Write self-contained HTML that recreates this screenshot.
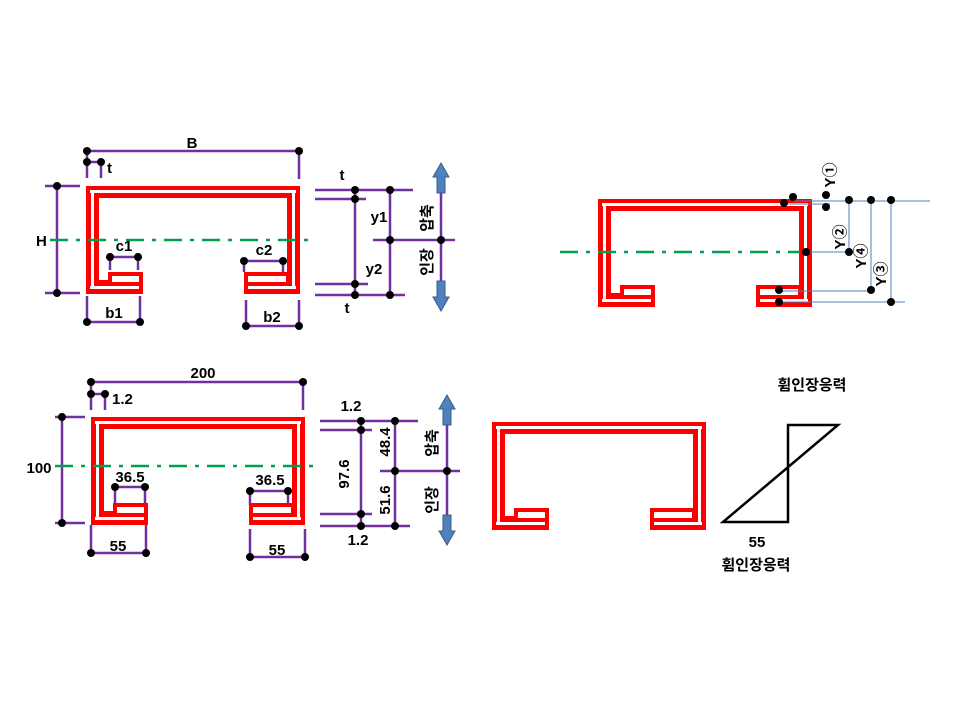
<!DOCTYPE html>
<html><head><meta charset="utf-8"><style>
html,body{margin:0;padding:0;background:#fff}
svg text{font-family:"Liberation Sans","Noto Sans CJK KR",sans-serif;font-weight:bold;font-size:15px;fill:#000}
</style></head><body>
<svg width="960" height="720" viewBox="0 0 960 720" xmlns="http://www.w3.org/2000/svg">
<defs>
<g id="sec">
<rect x="0" y="0" width="214" height="12" fill="#f00"/>
<rect x="0" y="0" width="13" height="108" fill="#f00"/>
<rect x="201" y="0" width="13" height="108" fill="#f00"/>
<rect x="0" y="94" width="57" height="14" fill="#f00"/>
<rect x="22" y="86" width="35" height="22" fill="#f00"/>
<rect x="158" y="94" width="56" height="14" fill="#f00"/>
<rect x="158" y="86" width="48" height="22" fill="#f00"/>
<rect x="4" y="4" width="206" height="3" fill="#fff"/>
<rect x="5" y="7" width="3" height="93" fill="#fff"/>
<rect x="4" y="100" width="49" height="3" fill="#fff"/>
<rect x="26" y="90" width="27" height="6" fill="#fff"/>
<rect x="206" y="7" width="3" height="93" fill="#fff"/>
<rect x="162" y="100" width="48" height="3" fill="#fff"/>
<rect x="162" y="90" width="38" height="6" fill="#fff"/>
</g>
<g id="up"><path d="M-4,30 V14 H-8 L0,0 L8,14 H4 V30 Z" fill="#4f81bd" stroke="#385d8a" stroke-width="1"/></g>
</defs>

<!-- TOP LEFT -->
<g stroke="#7030a0" stroke-width="2.5" fill="none">
<line x1="87" y1="151" x2="299" y2="151"/><line x1="299" y1="151" x2="299" y2="179"/>
<line x1="87" y1="151" x2="87" y2="178"/><line x1="87" y1="162" x2="101" y2="162"/><line x1="101" y1="162" x2="101" y2="178"/>
<line x1="57" y1="186" x2="57" y2="293"/><line x1="45" y1="186" x2="80" y2="186"/><line x1="45" y1="293" x2="80" y2="293"/>
<line x1="110" y1="257" x2="138" y2="257"/><line x1="110" y1="257" x2="110" y2="270"/><line x1="138" y1="257" x2="138" y2="270"/>
<line x1="244" y1="261" x2="283" y2="261"/><line x1="244" y1="261" x2="244" y2="272"/><line x1="283" y1="261" x2="283" y2="272"/>
<line x1="87" y1="296" x2="87" y2="322"/><line x1="140" y1="296" x2="140" y2="322"/><line x1="87" y1="322" x2="140" y2="322"/>
<line x1="246" y1="300" x2="246" y2="326"/><line x1="299" y1="300" x2="299" y2="326"/><line x1="246" y1="326" x2="299" y2="326"/>
<line x1="315" y1="190" x2="413" y2="190"/><line x1="315" y1="199" x2="366" y2="199"/>
<line x1="315" y1="284" x2="368" y2="284"/><line x1="315" y1="295" x2="405" y2="295"/>
<line x1="355" y1="190" x2="355" y2="295"/><line x1="390" y1="190" x2="390" y2="295"/>
<line x1="373" y1="240" x2="455" y2="240"/><line x1="441" y1="185" x2="441" y2="290"/>
</g>
<use href="#sec" x="86" y="186"/>
<line x1="50" y1="240" x2="312" y2="240" stroke="#00a050" stroke-width="2.5" stroke-dasharray="18,8,4,8"/>
<use href="#up" x="441" y="163"/>
<use href="#up" transform="translate(441,311) scale(1,-1)"/>
<g fill="#000">
<circle cx="87" cy="151" r="4"/><circle cx="299" cy="151" r="4"/><circle cx="87" cy="162" r="4"/><circle cx="101" cy="162" r="4"/>
<circle cx="57" cy="186" r="4"/><circle cx="57" cy="293" r="4"/>
<circle cx="110" cy="257" r="4"/><circle cx="138" cy="257" r="4"/><circle cx="244" cy="261" r="4"/><circle cx="283" cy="261" r="4"/>
<circle cx="87" cy="322" r="4"/><circle cx="140" cy="322" r="4"/><circle cx="246" cy="326" r="4"/><circle cx="299" cy="326" r="4"/>
<circle cx="355" cy="190" r="4"/><circle cx="355" cy="199" r="4"/><circle cx="355" cy="284" r="4"/><circle cx="355" cy="295" r="4"/>
<circle cx="390" cy="190" r="4"/><circle cx="390" cy="240" r="4"/><circle cx="390" cy="295" r="4"/><circle cx="441" cy="240" r="4"/>
</g>
<text x="192" y="148" text-anchor="middle">B</text>
<text x="107" y="173">t</text>
<text x="36" y="246">H</text>
<text x="124" y="251" text-anchor="middle">c1</text>
<text x="264" y="255" text-anchor="middle">c2</text>
<text x="114" y="318" text-anchor="middle">b1</text>
<text x="272" y="322" text-anchor="middle">b2</text>
<text x="342" y="180" text-anchor="middle">t</text>
<text x="379" y="222" text-anchor="middle">y1</text>
<text x="374" y="274" text-anchor="middle">y2</text>
<text x="347" y="313" text-anchor="middle">t</text>
<text transform="translate(432,218) rotate(-90)" text-anchor="middle">압축</text>
<text transform="translate(432,262) rotate(-90)" text-anchor="middle">인장</text>

<!-- BOTTOM LEFT -->
<g stroke="#7030a0" stroke-width="2.5" fill="none">
<line x1="91" y1="382" x2="303" y2="382"/><line x1="303" y1="382" x2="303" y2="410"/>
<line x1="91" y1="382" x2="91" y2="410"/><line x1="91" y1="394" x2="105" y2="394"/><line x1="105" y1="394" x2="105" y2="410"/>
<line x1="62" y1="417" x2="62" y2="523"/><line x1="55" y1="417" x2="85" y2="417"/><line x1="55" y1="523" x2="85" y2="523"/>
<line x1="115" y1="487" x2="145" y2="487"/><line x1="115" y1="487" x2="115" y2="505"/><line x1="145" y1="487" x2="145" y2="505"/>
<line x1="250" y1="491" x2="288" y2="491"/><line x1="250" y1="491" x2="250" y2="505"/><line x1="288" y1="491" x2="288" y2="505"/>
<line x1="91" y1="525" x2="91" y2="555"/><line x1="146" y1="525" x2="146" y2="555"/><line x1="91" y1="553" x2="146" y2="553"/>
<line x1="250" y1="529" x2="250" y2="560"/><line x1="305" y1="529" x2="305" y2="560"/><line x1="250" y1="557" x2="305" y2="557"/>
<line x1="320" y1="421" x2="418" y2="421"/><line x1="320" y1="430" x2="372" y2="430"/>
<line x1="320" y1="514" x2="372" y2="514"/><line x1="320" y1="526" x2="410" y2="526"/>
<line x1="361" y1="421" x2="361" y2="526"/><line x1="395" y1="421" x2="395" y2="526"/>
<line x1="380" y1="471" x2="460" y2="471"/><line x1="447" y1="415" x2="447" y2="525"/>
</g>
<use href="#sec" x="91" y="417"/>
<line x1="55" y1="466" x2="315" y2="466" stroke="#00a050" stroke-width="2.5" stroke-dasharray="18,8,4,8"/>
<use href="#up" x="447" y="395"/>
<use href="#up" transform="translate(447,545) scale(1,-1)"/>
<g fill="#000">
<circle cx="91" cy="382" r="4"/><circle cx="303" cy="382" r="4"/><circle cx="91" cy="394" r="4"/><circle cx="105" cy="394" r="4"/>
<circle cx="62" cy="417" r="4"/><circle cx="62" cy="523" r="4"/>
<circle cx="115" cy="487" r="4"/><circle cx="145" cy="487" r="4"/><circle cx="250" cy="491" r="4"/><circle cx="288" cy="491" r="4"/>
<circle cx="91" cy="553" r="4"/><circle cx="146" cy="553" r="4"/><circle cx="250" cy="557" r="4"/><circle cx="305" cy="557" r="4"/>
<circle cx="361" cy="421" r="4"/><circle cx="361" cy="430" r="4"/><circle cx="361" cy="514" r="4"/><circle cx="361" cy="526" r="4"/>
<circle cx="395" cy="421" r="4"/><circle cx="395" cy="471" r="4"/><circle cx="395" cy="526" r="4"/><circle cx="447" cy="471" r="4"/>
</g>
<text x="203" y="378" text-anchor="middle">200</text>
<text x="112" y="404">1.2</text>
<text x="39" y="473" text-anchor="middle">100</text>
<text x="130" y="482" text-anchor="middle">36.5</text>
<text x="270" y="485" text-anchor="middle">36.5</text>
<text x="118" y="551" text-anchor="middle">55</text>
<text x="277" y="555" text-anchor="middle">55</text>
<text x="351" y="411" text-anchor="middle">1.2</text>
<text x="358" y="545" text-anchor="middle">1.2</text>
<text transform="translate(349,474) rotate(-90)" text-anchor="middle">97.6</text>
<text transform="translate(390,442) rotate(-90)" text-anchor="middle">48.4</text>
<text transform="translate(390,500) rotate(-90)" text-anchor="middle">51.6</text>
<text transform="translate(437,443) rotate(-90)" text-anchor="middle">압축</text>
<text transform="translate(437,500) rotate(-90)" text-anchor="middle">인장</text>

<!-- TOP RIGHT -->
<use href="#sec" x="598" y="199"/>
<line x1="560" y1="252" x2="800" y2="252" stroke="#00a050" stroke-width="2.5" stroke-dasharray="18,8,4,8"/>
<g stroke="#4f81bd" stroke-width="1" fill="none">
<line x1="793" y1="201" x2="930" y2="201"/><line x1="783" y1="204" x2="830" y2="204"/>
<line x1="806" y1="252" x2="849" y2="252"/>
<line x1="779" y1="291" x2="871" y2="291"/><line x1="779" y1="302" x2="905" y2="302"/>
<line x1="849" y1="201" x2="849" y2="252"/><line x1="871" y1="201" x2="871" y2="291"/><line x1="891" y1="201" x2="891" y2="302"/>
</g>
<g fill="#000">
<circle cx="793" cy="197" r="4"/><circle cx="784" cy="203" r="4"/><circle cx="826" cy="195" r="4"/><circle cx="826" cy="207" r="4"/>
<circle cx="849" cy="200" r="4"/><circle cx="871" cy="200" r="4"/><circle cx="891" cy="200" r="4"/>
<circle cx="806" cy="252" r="4"/><circle cx="849" cy="252" r="4"/>
<circle cx="779" cy="290" r="4"/><circle cx="779" cy="302" r="4"/><circle cx="871" cy="290" r="4"/><circle cx="891" cy="302" r="4"/>
</g>
<text transform="translate(835,175) rotate(-90)" text-anchor="middle">Y①</text>
<text transform="translate(845,237) rotate(-90)" text-anchor="middle">Y②</text>
<text transform="translate(866,256) rotate(-90)" text-anchor="middle">Y④</text>
<text transform="translate(886,274) rotate(-90)" text-anchor="middle">Y③</text>

<!-- BOTTOM RIGHT -->
<use href="#sec" x="492" y="422"/>
<path d="M723,522 H788 V425 H838 Z" fill="none" stroke="#000" stroke-width="2.5"/>
<text x="812" y="390" text-anchor="middle">휨인장응력</text>
<text x="757" y="547" text-anchor="middle">55</text>
<text x="756" y="570" text-anchor="middle">휨인장응력</text>
</svg>
</body></html>
